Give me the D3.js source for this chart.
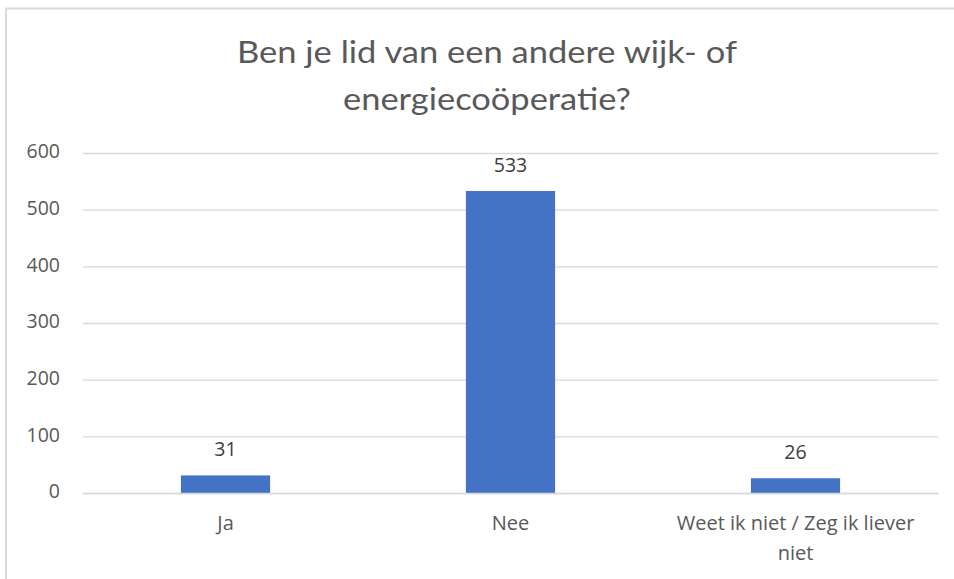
<!DOCTYPE html>
<html><head><meta charset="utf-8">
<script src="https://cdn.jsdelivr.net/npm/d3@7"></script>
<style>body{margin:0;background:#fff}svg{display:block}</style>
</head><body>
<svg id="c" width="954" height="579"></svg>
<script>
const categories = ["Ja", "Nee", "Weet ik niet / Zeg ik liever niet"];
const values = [31, 533, 26];
const yTicks = [0, 100, 200, 300, 400, 500, 600];
const titleLines = ["Ben je lid van een andere wijk- of", "energiecoöperatie?"];

const svg = d3.select("#c");
const W = 954, H = 579;
const m = {left: 83, right: 16, top: 153, bottom: 86};
const FONT = "'Open Sans', sans-serif";

// frame
svg.append("line").attr("x1", 5).attr("x2", W).attr("y1", 8.5).attr("y2", 8.5).attr("stroke", "#d9d9d9").attr("stroke-width", 2);
svg.append("line").attr("x1", 6).attr("x2", 6).attr("y1", 8).attr("y2", H).attr("stroke", "#d9d9d9").attr("stroke-width", 2);

const x = d3.scaleBand().domain(categories).range([m.left, W - m.right]).paddingInner(0.687).paddingOuter(0.3435);
const y = d3.scaleLinear().domain([0, 600]).range([H - m.bottom, m.top]);

// gridlines
const grid = svg.append("g").attr("transform", `translate(${m.left},0)`)
  .call(d3.axisLeft(y).tickValues(yTicks).tickSize(-(W - m.right - m.left)).tickFormat(""));
grid.select(".domain").remove();
grid.selectAll("line").attr("stroke", "#d9d9d9").attr("stroke-width", 1.4);

// y labels
const ya = svg.append("g").attr("transform", `translate(${m.left},0)`)
  .call(d3.axisLeft(y).tickValues(yTicks).tickSize(0).tickPadding(23));
ya.select(".domain").remove();
ya.selectAll("text").attr("fill", "#595959").attr("font-family", FONT).attr("font-size", 19.5).attr("dy", "0.25em");

// bars
svg.append("g").selectAll("rect").data(values).join("rect")
  .attr("x", (d, i) => x(categories[i]))
  .attr("width", x.bandwidth())
  .attr("y", d => y(d))
  .attr("height", d => y(0) - y(d))
  .attr("fill", "#4472c4");

// data labels
svg.append("g").selectAll("text").data(values).join("text")
  .attr("x", (d, i) => x(categories[i]) + x.bandwidth() / 2)
  .attr("y", d => y(d) - 19)
  .attr("text-anchor", "middle")
  .attr("fill", "#404040")
  .attr("font-family", FONT)
  .attr("font-size", 19.5)
  .text(d => d);

// category labels
const xa = svg.append("g").attr("transform", `translate(0,${H - m.bottom})`)
  .call(d3.axisBottom(x).tickSize(0).tickPadding(0).tickFormat(""));
xa.select(".domain").attr("stroke", "#d9d9d9").attr("stroke-width", 1.4);
const wrapped = {"Weet ik niet / Zeg ik liever niet": ["Weet ik niet / Zeg ik liever", "niet"]};
xa.selectAll(".tick").each(function(d) {
  const lines = wrapped[d] || [d];
  const t = d3.select(this).append("text")
    .attr("fill", "#595959").attr("text-anchor", "middle")
    .attr("font-family", FONT).attr("font-size", 20);
  lines.forEach((l, i) => t.append("tspan").attr("x", 0).attr("y", 37 + i * 30).text(l));
});

// title
const titleW = [500, 288];
const tt = svg.append("g").attr("fill", "#595959")
  .attr("font-family", "Lato, sans-serif").attr("font-weight", 400).attr("font-size", 30);
titleLines.forEach((l, i) => tt.append("text").attr("text-anchor", "middle")
  .attr("x", 487).attr("y", 63 + i * 47)
  .attr("textLength", titleW[i]).attr("lengthAdjust", "spacingAndGlyphs").text(l));
</script>
</body></html>
